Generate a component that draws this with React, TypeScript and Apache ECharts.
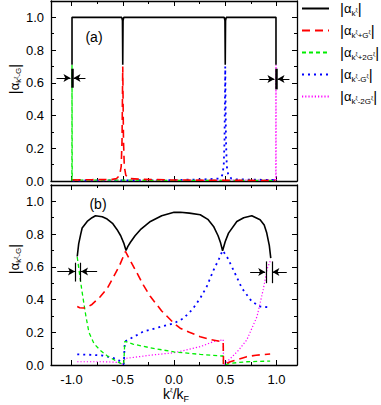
import React, { useEffect, useRef } from 'react';
import * as echarts from 'echarts';

const FONT = '"Liberation Sans", Arial, Helvetica, sans-serif';

// ---------- Panel (a) ----------
const kTopBlack = [-0.995, -0.995, -0.51, -0.503, -0.5, -0.497, -0.49, 0.49, 0.497, 0.5, 0.503, 0.51, 0.995, 0.995];
const aTopBlack = [0.71, 1.0, 1.0, 0.98, 0.71, 0.98, 1.0, 1.0, 0.98, 0.71, 0.98, 1.0, 1.0, 0.71];

const kTopRed = [-0.99, -0.8, -0.6, -0.56, -0.53, -0.515, -0.507, -0.5, -0.493, -0.485, -0.47, -0.44, -0.3, 0, 0.5, 0.99];
const aTopRed = [0.006, 0.008, 0.01, 0.015, 0.035, 0.09, 0.25, 0.7, 0.25, 0.09, 0.035, 0.015, 0.01, 0.006, 0.004, 0.003];

const kTopGreen = [-0.996, -0.995, -0.993, -0.9, -0.5, 0, 0.5, 0.99];
const aTopGreen = [0.0, 0.71, 0.01, 0.005, 0.005, 0.004, 0.004, 0.004];

const kTopBlue = [-0.99, -0.5, 0, 0.3, 0.44, 0.47, 0.485, 0.493, 0.5, 0.507, 0.515, 0.53, 0.56, 0.6, 0.8, 0.99];
const aTopBlue = [0.003, 0.004, 0.006, 0.01, 0.015, 0.035, 0.09, 0.25, 0.7, 0.25, 0.09, 0.035, 0.015, 0.01, 0.008, 0.006];

const kTopMagenta = [-0.99, -0.5, 0, 0.5, 0.9, 0.993, 0.995, 0.996];
const aTopMagenta = [0.004, 0.004, 0.004, 0.005, 0.005, 0.01, 0.71, 0.0];

// ---------- Panel (b) ----------
const kBotBlack = [-0.944, -0.93, -0.91, -0.896, -0.847, -0.8, -0.766, -0.7, -0.652, -0.6, -0.555, -0.52, -0.49, -0.468, -0.45, -0.425, -0.38, -0.328, -0.23, -0.12, 0, 0.062, 0.15, 0.256, 0.33, 0.386, 0.43, 0.455, 0.474, 0.5, 0.532, 0.613, 0.68, 0.759, 0.84, 0.88, 0.905, 0.93, 0.944];
const aBotBlack = [0.663, 0.74, 0.8, 0.837, 0.877, 0.9, 0.912, 0.906, 0.892, 0.866, 0.827, 0.79, 0.745, 0.7, 0.725, 0.75, 0.79, 0.827, 0.877, 0.912, 0.933, 0.933, 0.928, 0.918, 0.89, 0.847, 0.79, 0.745, 0.698, 0.755, 0.806, 0.877, 0.9, 0.912, 0.888, 0.855, 0.806, 0.73, 0.653];

const kBotRed = [-0.944, -0.92, -0.88, -0.847, -0.8, -0.718, -0.65, -0.588, -0.53, -0.474, -0.42, -0.36, -0.3, -0.23, -0.12, 0, 0.06, 0.15, 0.256, 0.36, 0.467, 0.48, 0.483, 0.548, 0.63, 0.71, 0.8, 0.938];
const aBotRed = [0.357, 0.35, 0.348, 0.353, 0.37, 0.418, 0.47, 0.541, 0.61, 0.694, 0.63, 0.561, 0.49, 0.418, 0.33, 0.255, 0.225, 0.2, 0.173, 0.155, 0.143, 0.142, 0.0, 0.02, 0.035, 0.051, 0.06, 0.067];

const kBotGreen = [-0.944, -0.92, -0.9, -0.86, -0.83, -0.78, -0.72, -0.65, -0.57, -0.52, -0.49, -0.48, -0.4, -0.23, 0, 0.256, 0.467, 0.48, 0.483, 0.548, 0.71, 0.938];
const aBotGreen = [0.66, 0.55, 0.46, 0.3, 0.2, 0.13, 0.09, 0.055, 0.026, 0.01, 0.005, 0.145, 0.128, 0.105, 0.08, 0.065, 0.055, 0.055, 0.0, 0.01, 0.02, 0.024];

const kBotBlue = [-0.944, -0.8, -0.7, -0.6, -0.54, -0.51, -0.49, -0.48, -0.4, -0.3, -0.15, 0, 0.094, 0.18, 0.256, 0.32, 0.386, 0.44, 0.474, 0.516, 0.58, 0.662, 0.759, 0.84, 0.92];
const aBotBlue = [0.065, 0.062, 0.058, 0.045, 0.03, 0.01, 0.005, 0.143, 0.17, 0.204, 0.23, 0.255, 0.286, 0.34, 0.408, 0.48, 0.58, 0.65, 0.7, 0.663, 0.58, 0.47, 0.388, 0.357, 0.353];

const kBotMagenta = [-0.944, -0.8, -0.7, -0.6, -0.54, -0.51, -0.49, -0.48, -0.35, -0.23, 0, 0.256, 0.386, 0.467, 0.48, 0.483, 0.55, 0.63, 0.71, 0.81, 0.87, 0.91, 0.944];
const aBotMagenta = [0.02, 0.02, 0.02, 0.018, 0.015, 0.008, 0.004, 0.04, 0.05, 0.06, 0.075, 0.112, 0.143, 0.153, 0.155, 0.0, 0.04, 0.09, 0.153, 0.296, 0.46, 0.59, 0.643];

// ---------- legend / tick labels ----------
const seriesNames = ['a0', 'a1', 'a2', 'a3', 'a4'];
const legendLabels: Record<string, string> = {
  a0: '{b||}{a|α}{s|k}{p|ξ}{b||}',
  a1: '{b||}{a|α}{s|k}{p|ξ}{s|+G}{p|ξ}{b||}',
  a2: '{b||}{a|α}{s|k}{p|ξ}{s|+2G}{p|ξ}{b||}',
  a3: '{b||}{a|α}{s|k}{p|ξ}{s|-G}{p|ξ}{b||}',
  a4: '{b||}{a|α}{s|k}{p|ξ}{s|-2G}{p|ξ}{b||}',
};
const yNameText = '{b||}{a|α}{s|k}{p|ξ}{s|-G}{b||}';
const xNameText = '{x|k}{q|ξ}{x|/k}{f|F}';
const panelLabels = ['(a)', '(b)'];

const pairs = (k: number[], v: number[]) => k.map((x, i) => [x, v[i]]);

const richLegend = {
  b: { fontSize: 15, fontFamily: FONT, color: '#000', fill: '#000' },
  a: { fontSize: 13, fontFamily: FONT, color: '#000', fill: '#000' },
  s: { fontSize: 8, fontFamily: FONT, color: '#000', fill: '#000', padding: [9, 0, 0, 0] },
  p: { fontSize: 5, fontFamily: FONT, color: '#000', fill: '#000', padding: [3, 0, 0, 0] },
  x: { fontSize: 14, fontFamily: FONT, color: '#000', fill: '#000' },
  q: { fontSize: 6, fontFamily: FONT, color: '#000', fill: '#000', padding: [0, 0, 9, 0] },
  f: { fontSize: 9, fontFamily: FONT, color: '#000', fill: '#000', padding: [10, 0, 0, 0] },
};

export default function App() {
  const ref = useRef<HTMLDivElement>(null);
  useEffect(() => {
    const chart = echarts.init(ref.current!, null, { renderer: 'svg' });

    const xAxis = (grid: number, position: string, showLabel: boolean) => ({
      type: 'value', gridIndex: grid, position, min: -1.2, max: 1.2,
      splitNumber: 5, minInterval: 0.5, maxInterval: 0.5,
      axisLine: { show: true, onZero: false, lineStyle: { color: '#000', width: 1.3 } },
      axisTick: { show: true, inside: true, length: 5, lineStyle: { color: '#000', width: 1 } },
      minorTick: { show: true, splitNumber: 2, length: 3, lineStyle: { color: '#000', width: 1 } },
      splitLine: { show: false }, minorSplitLine: { show: false },
      axisLabel: {
        show: showLabel, margin: 8, color: '#000', fontSize: 13, fontFamily: FONT,
        formatter: (v: number) => v.toFixed(1), showMinLabel: false, showMaxLabel: false,
      },
    });
    const yAxis = (grid: number, position: string, showLabel: boolean) => ({
      type: 'value', gridIndex: grid, position, min: 0, max: 1.1,
      splitNumber: 5, minInterval: 0.2, maxInterval: 0.2,
      axisLine: { show: true, onZero: false, lineStyle: { color: '#000', width: 1.3 } },
      axisTick: { show: true, inside: true, length: 5, lineStyle: { color: '#000', width: 1 } },
      minorTick: { show: true, splitNumber: 2, length: 3, lineStyle: { color: '#000', width: 1 } },
      splitLine: { show: false }, minorSplitLine: { show: false },
      axisLabel: {
        show: showLabel, margin: 7, color: '#000', fontSize: 13, fontFamily: FONT,
        formatter: (v: number) => v.toFixed(1), showMaxLabel: false,
      },
    });

    const line = (name: string, k: number[], a: number[], idx: number, color: string, type: any, width: number, z: number) => ({
      name, type: 'line', xAxisIndex: idx, yAxisIndex: idx, data: pairs(k, a),
      symbol: 'none', showSymbol: false, clip: true, z,
      lineStyle: { color, width, type, cap: 'butt' }, itemStyle: { color },
    });

    const RED = '#ff0000', GREEN = '#00ee00', BLUE = '#0000ff', MAG = '#ff00ff';
    const styles = [
      ['#000000', 'solid', 1.6],
      [RED, [8, 5], 1.6],
      [GREEN, [4, 3], 1.3],
      [BLUE, [2, 4], 1.8],
      [MAG, [1.2, 2], 1.2],
    ] as any[];

    const top = [
      [kTopBlack, aTopBlack], [kTopRed, aTopRed], [kTopGreen, aTopGreen], [kTopBlue, aTopBlue], [kTopMagenta, aTopMagenta],
    ];
    const bot = [
      [kBotBlack, aBotBlack], [kBotRed, aBotRed], [kBotGreen, aBotGreen], [kBotBlue, aBotBlue], [kBotMagenta, aBotMagenta],
    ];
    const zOrder = [6, 5, 4, 3, 2];
    const series: any[] = [];
    [0, 1, 2, 3, 4].forEach((i) => {
      series.push(line(seriesNames[i], top[i][0], top[i][1], 0, styles[i][0], styles[i][1], styles[i][2], zOrder[i]));
    });
    [0, 1, 2, 3, 4].forEach((i) => {
      series.push(line(seriesNames[i], bot[i][0], bot[i][1], 2, styles[i][0], styles[i][1], styles[i][2], zOrder[i]));
    });

    const bar = (x: number, y1: number, y2: number, w: number) => [
      { coord: [x, y1], symbol: 'none', lineStyle: { width: w, color: '#000', type: 'solid' } },
      { coord: [x, y2], symbol: 'none', lineStyle: { width: w, color: '#000', type: 'solid' } },
    ];
    const arrow = (x1: number, x2: number, y: number) => [
      { coord: [x1, y], symbol: 'none' },
      { coord: [x2, y], symbol: 'arrow' },
    ];
    const annot = (idx: number, data: any[]) => ({
      type: 'line', xAxisIndex: idx, yAxisIndex: idx, data: [], z: 10,
      markLine: {
        silent: true, animation: false, symbol: ['none', 'arrow'], symbolSize: [6, 7],
        label: { show: false }, emphasis: { disabled: true },
        lineStyle: { color: '#000', width: 1, type: 'solid' },
        data,
      },
    });
    series.push(annot(0, [
      bar(-0.995, 0.57, 0.686, 2.5), arrow(-1.146, -1.01, 0.629), arrow(-0.864, -0.98, 0.629),
      bar(0.995, 0.56, 0.686, 2.5), arrow(0.834, 0.98, 0.623), arrow(1.126, 1.01, 0.623),
    ]));
    series.push(annot(2, [
      bar(-0.961, 0.51, 0.625, 1.2), bar(-0.912, 0.51, 0.625, 1.2),
      arrow(-1.139, -0.966, 0.571), arrow(-0.75, -0.907, 0.571),
      bar(0.896, 0.5, 0.633, 1.2), bar(0.954, 0.5, 0.633, 1.2),
      arrow(0.743, 0.89, 0.568), arrow(1.1, 0.96, 0.568),
    ]));

    const option: any = {
      animation: false,
      textStyle: { fontFamily: FONT, color: '#000' },
      grid: [
        { left: 51, right: 84, top: 1, height: 180, containLabel: false, outerBoundsMode: 'none' },
        { left: 51, right: 84, top: 185, height: 180, containLabel: false, outerBoundsMode: 'none' },
      ],
      xAxis: [xAxis(0, 'bottom', false), xAxis(0, 'top', false), xAxis(1, 'bottom', true), xAxis(1, 'top', false)],
      yAxis: [yAxis(0, 'left', true), yAxis(0, 'right', false), yAxis(1, 'left', true), yAxis(1, 'right', false)],
      legend: {
        data: seriesNames, orient: 'vertical', left: 301, top: 1, padding: 0,
        itemWidth: 27, itemHeight: 12, itemGap: 6,
        itemStyle: { opacity: 0 },
        formatter: (n: string) => legendLabels[n],
        textStyle: { color: '#000', fontFamily: FONT, padding: [0, 0, 0, 6], rich: richLegend },
        selectedMode: false,
      },
      graphic: [
        { type: 'text', x: 94, y: 37, silent: true, style: { text: panelLabels[0], fontSize: 14, fontFamily: FONT, fill: '#000', align: 'center', verticalAlign: 'middle' } },
        { type: 'text', x: 98, y: 204, silent: true, style: { text: panelLabels[1], fontSize: 14, fontFamily: FONT, fill: '#000', align: 'center', verticalAlign: 'middle' } },
        { type: 'text', x: 14, y: 79, rotation: Math.PI / 2, silent: true, style: { text: yNameText, rich: richLegend, fill: '#000', align: 'center', verticalAlign: 'middle' } },
        { type: 'text', x: 14, y: 259, rotation: Math.PI / 2, silent: true, style: { text: yNameText, rich: richLegend, fill: '#000', align: 'center', verticalAlign: 'middle' } },
        { type: 'text', x: 176, y: 394, silent: true, style: { text: xNameText, rich: richLegend, fill: '#000', align: 'center', verticalAlign: 'middle' } },
      ],
      series,
    };
    chart.setOption(option);
    return () => chart.dispose();
  }, []);
  return <div ref={ref} style={{ width: 381, height: 405, position: 'absolute', left: 0, top: 0 }} />;
}
